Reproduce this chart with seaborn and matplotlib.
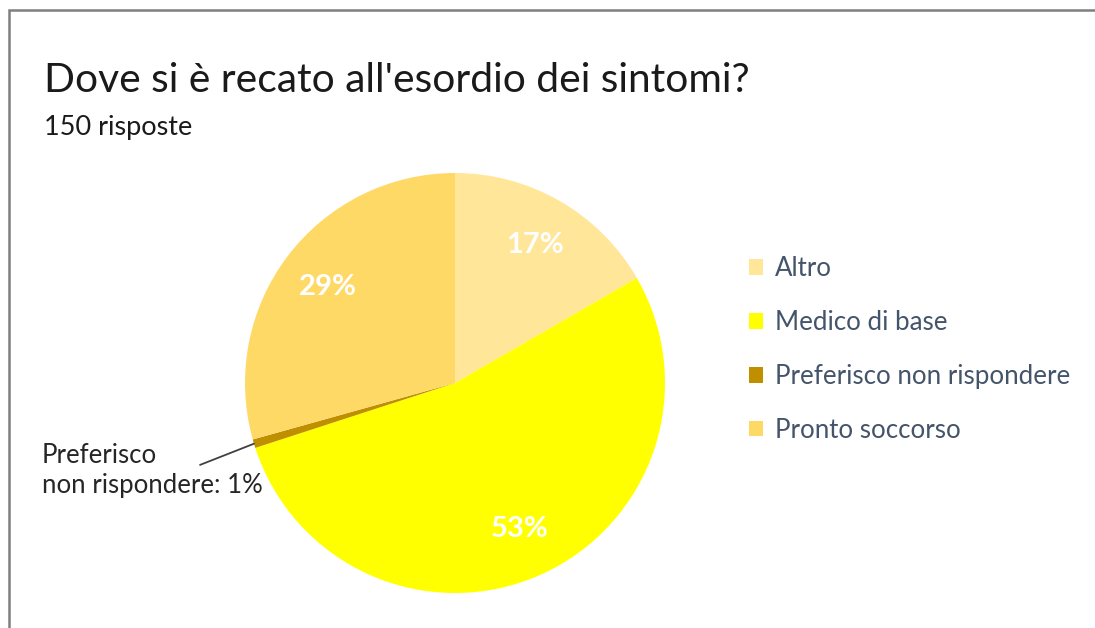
import matplotlib
matplotlib.use("Agg")
import matplotlib.pyplot as plt
import seaborn as sns
import numpy as np
from matplotlib.patches import Rectangle

categories = ["Altro", "Medico di base", "Preferisco non rispondere", "Pronto soccorso"]
counts = [25, 80, 1, 44]
colors = ["#FFE699", "#FFFF00", "#BF8F00", "#FFD966"]
title = "Dove si è recato all'esordio dei sintomi?"
subtitle = "150 risposte"

sns.set_theme(style="white")
plt.rcParams["font.family"] = ["Lato", "DejaVu Sans"]

W, H = 1095, 628
fig = plt.figure(figsize=(W / 100, H / 100), dpi=100)
fig.patch.set_facecolor("white")

# border frame (open to the right / bottom edges)
fig.patches.append(Rectangle((9 / W, -0.1), 1.2, 1 - 10 / H + 0.1, transform=fig.transFigure,
                             fill=False, edgecolor="#7f7f7f", linewidth=1.8))

cx, cy, r = 455, 383, 210
ax = fig.add_axes([(cx - r) / W, (H - cy - r) / H, 2 * r / W, 2 * r / H])

total = sum(counts)

def pct_fmt(p):
    return f"{p:.0f}%" if p >= 2 else ""

wedges, texts, autotexts = ax.pie(
    counts, colors=colors, startangle=90, counterclock=False,
    autopct=pct_fmt, pctdistance=0.76, radius=1,
    wedgeprops=dict(linewidth=0),
    textprops=dict(color="white", fontsize=21, fontweight="bold"),
)
ax.set_xlim(-1, 1)
ax.set_ylim(-1, 1)
ax.axis("off")

# outside label for the small slice
w = wedges[2]
ang = np.deg2rad((w.theta1 + w.theta2) / 2)
edge = (np.cos(ang), np.sin(ang))
ax.annotate("", xy=edge, xytext=(-1.214, -0.39),
            arrowprops=dict(arrowstyle="-", color="#404040", lw=1.3, shrinkA=0, shrinkB=0),
            annotation_clip=False)
ax.text(-1.967, -0.415, f"Preferisco\nnon rispondere: {counts[2] / total * 100:.0f}%",
        ha="left", va="center", fontsize=18.5, color="#262626", linespacing=1.25,
        clip_on=False)

# titles
fig.text(44 / W, 1 - 80 / H, title, fontsize=29.3, color="#1a1a1a", va="center", ha="left")
fig.text(44 / W, 1 - 127 / H, subtitle, fontsize=19.5, color="#1a1a1a", va="center", ha="left")

# legend
leg = fig.legend(wedges, categories, loc="upper left",
                 bbox_to_anchor=(749 / W, 1 - 256 / H), frameon=False,
                 fontsize=18.6, handlelength=0.55, handleheight=0.55,
                 handletextpad=0.45, labelspacing=1.12, borderaxespad=0, borderpad=0)
for t in leg.get_texts():
    t.set_color("#44546A")

fig.savefig("out.png", dpi=100, facecolor="white")
